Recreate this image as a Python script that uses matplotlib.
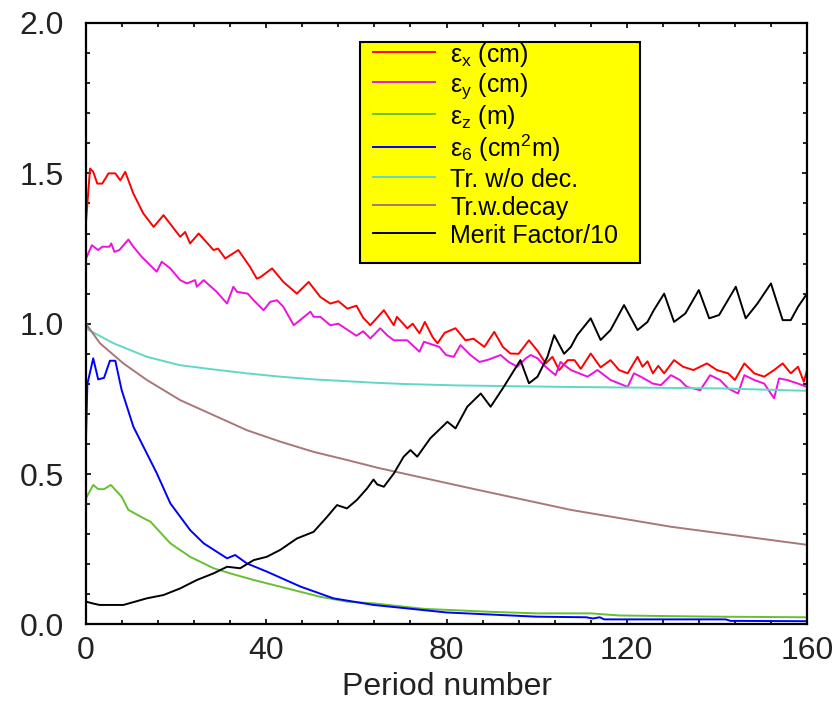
import matplotlib
matplotlib.use("Agg")
import matplotlib.pyplot as plt
from matplotlib.patches import Rectangle
from matplotlib.ticker import MultipleLocator

plt.rcParams['font.family'] = ['Liberation Sans', 'DejaVu Sans']
plt.rcParams['mathtext.fontset'] = 'custom'
plt.rcParams['mathtext.rm'] = 'Liberation Sans'
plt.rcParams['mathtext.it'] = 'Liberation Sans:italic'
plt.rcParams['mathtext.bf'] = 'Liberation Sans:bold'

# ---------------- data ----------------
ex_x = [0, 0.9, 1.6, 2.5, 3.6, 5.0, 6.5, 7.6, 8.7, 10.5, 12.7, 15.0, 17.2, 20.9, 22.0, 23.1,
        25.0, 28.3, 29.3, 30.9, 33.8, 36.4, 37.9, 38.7, 41.3, 43.8, 46.8, 49.4, 52.0, 54.2,
        56.0, 58.0, 60.0, 61.5, 63.1, 66.1, 68.3, 69.0, 71.3, 72.5, 74.0, 75.2, 76.9, 78.0,
        79.6, 82.0, 84.2, 86.0, 88.4, 90.6, 92.5, 94.2, 96.0, 98.3, 100.2, 102.0, 103.5,
        105.0, 106.9, 108.4, 109.8, 112.0, 114.2, 116.4, 118.3, 120.2, 122.4, 123.5, 124.6,
        125.8, 127.0, 128.3, 130.5, 132.5, 134.8, 137.8, 140.0, 142.5, 144.0, 146.1, 148.3,
        150.5, 152.7, 154.6, 156.4, 158.0, 159.3, 160.0]
ex_y = [1.34, 1.516, 1.505, 1.466, 1.466, 1.50, 1.50, 1.477, 1.505, 1.433, 1.367, 1.322, 1.361,
        1.289, 1.305, 1.267, 1.30, 1.245, 1.25, 1.217, 1.245, 1.189, 1.15, 1.155, 1.184, 1.139,
        1.10, 1.139, 1.089, 1.067, 1.075, 1.05, 1.06, 1.02, 0.995, 1.045, 0.995, 1.023, 0.985,
        1.0, 0.968, 1.006, 0.956, 0.935, 0.97, 0.985, 0.945, 0.95, 0.923, 0.973, 0.923, 0.901,
        0.90, 0.945, 0.91, 0.868, 0.89, 0.846, 0.879, 0.879, 0.85, 0.901, 0.855, 0.879, 0.846,
        0.835, 0.89, 0.857, 0.875, 0.835, 0.86, 0.835, 0.879, 0.857, 0.846, 0.868, 0.846,
        0.835, 0.813, 0.868, 0.835, 0.824, 0.846, 0.868, 0.835, 0.857, 0.807, 0.846]

ey_x = [0, 1.3, 2.7, 3.6, 5.2, 5.6, 6.3, 7.4, 9.4, 10.5, 12.4, 14.2, 15.7, 16.8, 18.7, 20.9,
        22.4, 24.2, 24.6, 26.1, 29.0, 31.3, 32.7, 33.5, 35.9, 37.2, 39.4, 40.9, 42.4, 43.8,
        46.1, 49.8, 50.5, 52.0, 54.2, 56.0, 58.0, 60.0, 61.5, 63.1, 65.3, 66.8, 68.3, 71.3,
        74.0, 75.0, 78.4, 79.9, 81.6, 83.1, 85.3, 87.3, 89.2, 92.0, 93.8, 95.7, 97.6, 98.7,
        100.2, 102.0, 104.2, 105.3, 107.6, 111.3, 113.5, 116.4, 120.2, 121.6, 123.1, 125.8,
        127.6, 129.8, 131.8, 133.3, 134.8, 136.3, 138.5, 140.7, 142.5, 144.7, 146.1, 148.3,
        150.5, 152.7, 153.8, 155.6, 158.0, 160.0]
ey_y = [1.217, 1.261, 1.245, 1.256, 1.256, 1.267, 1.239, 1.245, 1.28, 1.256, 1.222, 1.195,
        1.173, 1.206, 1.184, 1.145, 1.134, 1.145, 1.123, 1.145, 1.106, 1.067, 1.123, 1.106,
        1.10, 1.078, 1.045, 1.073, 1.078, 1.056, 0.995, 1.04, 1.023, 1.023, 0.995, 1.0, 0.98,
        0.96, 0.975, 0.951, 0.985, 0.962, 0.945, 0.945, 0.907, 0.94, 0.923, 0.896, 0.89,
        0.929, 0.896, 0.873, 0.88, 0.896, 0.873, 0.857, 0.885, 0.896, 0.885, 0.857, 0.829,
        0.873, 0.846, 0.824, 0.846, 0.813, 0.79, 0.835, 0.824, 0.801, 0.796, 0.829, 0.813,
        0.79, 0.785, 0.779, 0.829, 0.813, 0.785, 0.768, 0.829, 0.813, 0.801, 0.752, 0.818,
        0.813, 0.801, 0.79]

ez_x = [0, 1.6, 2.7, 4.0, 5.5, 7.9, 9.4, 12.8, 14.3, 18.7, 23.1, 28.3, 32.0, 37.2, 44.6,
        52.0, 58.0, 64.0, 75.0, 90.0, 100.0, 112.0, 118.3, 140.0, 160.0]
ez_y = [0.42, 0.464, 0.45, 0.45, 0.464, 0.425, 0.381, 0.353, 0.342, 0.27, 0.225, 0.187,
        0.17, 0.148, 0.12, 0.092, 0.076, 0.07, 0.052, 0.042, 0.037, 0.037, 0.03, 0.026, 0.024]

e6_x = [0, 0.3, 1.6, 2.7, 4.0, 5.3, 6.5, 7.9, 10.5, 15.7, 18.7, 23.1, 26.1, 31.3, 33.1, 35.7,
        40.1, 47.6, 54.9, 63.8, 80.0, 100.0, 111.0, 112.5, 114.0, 115.0, 142.0, 143.0, 160.0]
e6_y = [0.624, 0.80, 0.885, 0.815, 0.82, 0.877, 0.877, 0.78, 0.658, 0.503, 0.403, 0.314,
        0.27, 0.22, 0.231, 0.203, 0.176, 0.126, 0.087, 0.065, 0.04, 0.026, 0.024, 0.02, 0.024,
        0.017, 0.017, 0.012, 0.011]

tr_x = [0, 0.5, 6.1, 13.5, 20.9, 28.3, 35.7, 43.1, 50.5, 63.8, 70.0, 82.0, 106.0, 140.6, 160.0]
tr_y = [1.0, 0.98, 0.935, 0.89, 0.862, 0.848, 0.835, 0.824, 0.815, 0.804, 0.80, 0.795, 0.79,
        0.785, 0.777]

trd_x = [0, 3.1, 8.3, 13.5, 20.9, 28.3, 35.7, 43.1, 50.5, 57.9, 65.3, 85.3, 107.6, 129.8, 160.0]
trd_y = [1.0, 0.935, 0.868, 0.813, 0.746, 0.696, 0.646, 0.608, 0.574, 0.547, 0.519, 0.453,
         0.381, 0.325, 0.265]

mf_x = [0, 1.5, 3.0, 8.3, 13.5, 17.2, 20.9, 24.6, 28.3, 31.3, 34.2, 37.2, 40.1, 43.1, 46.8,
        50.5, 53.5, 55.7, 57.9, 60.1, 62.4, 63.8, 64.6, 66.1, 68.3, 70.5, 72.0, 73.5, 76.4,
        80.2, 82.0, 84.6, 87.6, 89.8, 92.7, 96.4, 98.3, 100.2, 102.4, 103.9, 106.1, 107.6,
        109.0, 112.0, 114.2, 116.4, 119.4, 122.4, 124.6, 126.0, 128.3, 130.5, 133.0, 136.0,
        138.3, 140.5, 144.2, 146.4, 149.0, 152.0, 154.6, 156.4, 158.0, 160.0]
mf_y = [0.076, 0.07, 0.065, 0.065, 0.087, 0.098, 0.12, 0.148, 0.17, 0.192, 0.187, 0.214,
        0.225, 0.248, 0.286, 0.308, 0.358, 0.397, 0.386, 0.414, 0.453, 0.482, 0.466, 0.458,
        0.502, 0.558, 0.58, 0.558, 0.619, 0.674, 0.652, 0.724, 0.768, 0.724, 0.79, 0.879,
        0.802, 0.824, 0.89, 0.962, 0.90, 0.923, 0.962, 1.018, 0.946, 0.979, 1.062, 0.979,
        1.006, 1.045, 1.10, 1.006, 1.034, 1.112, 1.018, 1.029, 1.123, 1.018, 1.067, 1.134,
        1.012, 1.012, 1.056, 1.10]

labels = [r'$\mathrm{ε}_\mathrm{x}$ (cm)', r'$\mathrm{ε}_\mathrm{y}$ (cm)',
          r'$\mathrm{ε}_\mathrm{z}$ (m)', r'$\mathrm{ε}_\mathrm{6}$ (cm$^\mathrm{2}$m)',
          'Tr. w/o dec.', 'Tr.w.decay', 'Merit Factor/10']
colors = ['#ff0000', '#ee11dd', '#66c030', '#0000ff', '#60d8c8', '#aa7777', '#000000']
xticks = [0, 40, 80, 120, 160]
yticks = [0.0, 0.5, 1.0, 1.5, 2.0]

# ---------------- figure ----------------
fig = plt.figure(figsize=(8.4, 7.16), dpi=100)
ax = fig.add_axes([0.1024, 0.1278, 0.8583, 0.8401])

series = [(ex_x, ex_y), (ey_x, ey_y), (ez_x, ez_y), (e6_x, e6_y),
          (tr_x, tr_y), (trd_x, trd_y), (mf_x, mf_y)]
handles = []
for (xs, ys), c, lab in zip(series, colors, labels):
    h, = ax.plot(xs, ys, color=c, lw=1.4, label=lab, zorder=2)
    handles.append(h)

ax.set_xlim(0, 160)
ax.set_ylim(0, 2.0)
ax.set_xticks(xticks)
ax.set_xticklabels([str(v) for v in xticks])
ax.set_yticks(yticks)
ax.set_yticklabels(['%.1f' % v for v in yticks])
ax.xaxis.set_minor_locator(MultipleLocator(8))
ax.yaxis.set_minor_locator(MultipleLocator(0.1))
ax.tick_params(which='both', direction='in', top=True, right=True, width=1.2,
               colors='black')
ax.tick_params(which='major', length=3.5)
ax.tick_params(which='minor', length=3.0)
ax.tick_params(axis='x', which='major', labelsize=23, pad=8.6, labelcolor='#222222')
ax.tick_params(axis='y', which='major', labelsize=23, pad=16, labelcolor='#222222')
for s in ax.spines.values():
    s.set_linewidth(1.6)
ax.set_xlabel('Period number', fontsize=23, labelpad=4, color='#222222')

# legend box
box = Rectangle((0.38, 0.6005), 0.389, 0.3685, transform=ax.transAxes,
                facecolor='#ffff00', edgecolor='black', lw=1.5, zorder=5)
ax.add_patch(box)
leg = ax.legend(handles=handles, loc='upper left', bbox_to_anchor=(0.398, 0.970),
                frameon=False, fontsize=18, borderpad=0, borderaxespad=0,
                handlelength=2.5, handletextpad=0.6, handleheight=1.2,
                labelspacing=0.067)
leg.set_zorder(6)

fig.savefig('out.png', dpi=100)
